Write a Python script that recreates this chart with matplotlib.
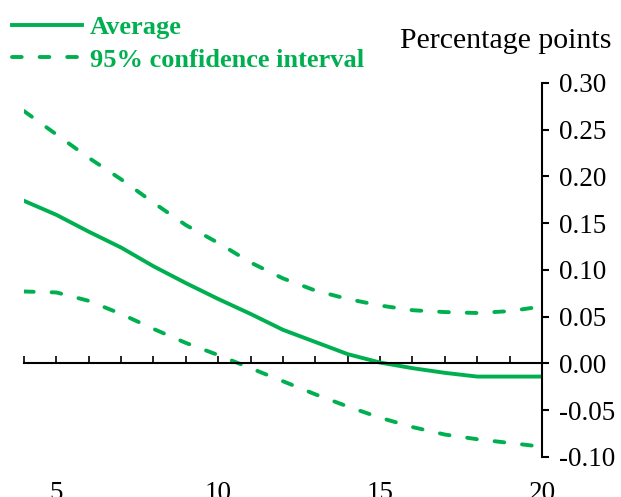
import matplotlib
matplotlib.use('Agg')
import matplotlib.pyplot as plt
import numpy as np

plt.rcParams['font.family'] = 'Liberation Serif'
plt.rcParams['axes.unicode_minus'] = False

horizon = list(range(4, 21))
average = [0.174, 0.159, 0.141, 0.124, 0.104, 0.086, 0.069, 0.053, 0.036,
           0.023, 0.010, 0.001, -0.005, -0.010, -0.014, -0.014, -0.014]
upper = [0.270, 0.245, 0.220, 0.197, 0.172, 0.148, 0.129, 0.108, 0.091,
         0.078, 0.069, 0.062, 0.057, 0.055, 0.054, 0.056, 0.061]
lower = [0.077, 0.076, 0.067, 0.053, 0.037, 0.022, 0.009, -0.005, -0.019,
         -0.033, -0.046, -0.058, -0.068, -0.076, -0.081, -0.085, -0.089]
yticks = [-0.10, -0.05, 0.00, 0.05, 0.10, 0.15, 0.20, 0.25, 0.30]
xlabels = [5, 10, 15, 20]

green = '#00B050'
dash = (0, (2.5, 4.6))

fig = plt.figure(figsize=(6.21, 4.97), dpi=100)
ax = fig.add_axes([0.0386, 0.0805, 0.8342, 0.7525])

ax.plot(horizon, average, color=green, lw=2.8, label='Average')
ax.plot(horizon, upper, color=green, lw=2.8, linestyle=dash,
        dash_capstyle='round', label='95% confidence interval')
ax.plot(horizon, lower, color=green, lw=2.8, linestyle=dash,
        dash_capstyle='round')

ax.set_xlim(4, 20)
ax.set_ylim(-0.10, 0.30)

# x axis sits on zero, labels go to the bottom
ax.spines['top'].set_visible(False)
ax.spines['left'].set_visible(False)
ax.spines['bottom'].set_position(('data', 0))
ax.spines['bottom'].set_linewidth(1.5)
ax.spines['right'].set_linewidth(1.5)
ax.set_xticks(horizon)
ax.tick_params(axis='x', direction='in', length=5, width=1.2, labelbottom=False)

ax.yaxis.tick_right()
ax.set_yticks(yticks)
ax.set_yticklabels([f'{v:.2f}' for v in yticks])
ax.tick_params(axis='y', direction='out', length=5, width=1.5, pad=7, labelsize=19.5)

secax = ax.secondary_xaxis('bottom')
secax.set_xticks(xlabels)
secax.set_xticklabels([str(v) for v in xlabels])
secax.tick_params(length=0, pad=17, labelsize=19.5)
secax.spines['bottom'].set_visible(False)

fig.text(0.9855, 0.9025, 'Percentage points', ha='right', va='baseline', fontsize=21.5)

leg = ax.legend(loc='upper left', bbox_to_anchor=(0.0, 0.992),
                bbox_transform=fig.transFigure, frameon=False,
                prop={'family': 'Liberation Serif', 'weight': 'bold', 'size': 19},
                handlelength=2.65, handletextpad=0.3, labelspacing=0.33,
                borderaxespad=0.2, borderpad=0.25)
for t in leg.get_texts():
    t.set_color(green)

fig.savefig('out.png', dpi=100)
